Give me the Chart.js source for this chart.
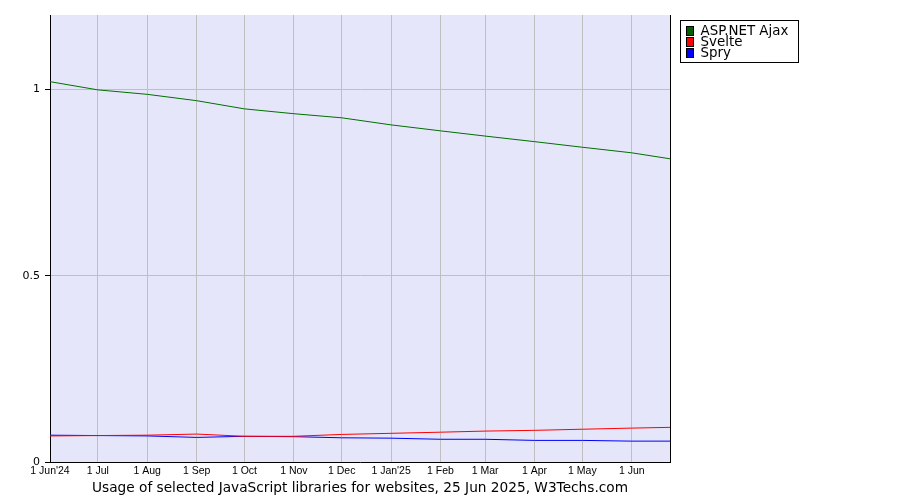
<!DOCTYPE html>
<html>
<head>
<meta charset="utf-8">
<script src="https://cdn.jsdelivr.net/npm/chart.js@4/dist/chart.umd.min.js"></script>
<style>
html,body{margin:0;padding:0;background:#fff;}
#wrap{width:900px;height:500px;}
</style>
</head>
<body>
<div id="wrap"><canvas id="c" width="900" height="500"></canvas></div>
<script>
const tickDates = ['2024-06-01','2024-07-01','2024-08-01','2024-09-01','2024-10-01','2024-11-01','2024-12-01','2025-01-01','2025-02-01','2025-03-01','2025-04-01','2025-05-01','2025-06-01'];
const tickLabels = ["1 Jun'24","1 Jul","1 Aug","1 Sep","1 Oct","1 Nov","1 Dec","1 Jan'25","1 Feb","1 Mar","1 Apr","1 May","1 Jun"];
const pointDates = ['2024-06-01','2024-07-01','2024-08-01','2024-09-01','2024-10-01','2024-11-01','2024-12-01','2025-01-01','2025-02-01','2025-03-01','2025-04-01','2025-05-01','2025-06-01','2025-06-25'];
const aspNetAjax = [1.021, 0.999, 0.987, 0.970, 0.948, 0.935, 0.924, 0.905, 0.889, 0.875, 0.860, 0.845, 0.830, 0.814];
const svelte     = [0.070, 0.071, 0.072, 0.075, 0.069, 0.069, 0.074, 0.077, 0.080, 0.083, 0.085, 0.088, 0.091, 0.093];
const spry       = [0.072, 0.071, 0.070, 0.066, 0.069, 0.068, 0.065, 0.064, 0.061, 0.061, 0.058, 0.058, 0.056, 0.056];
const yTicks = [0, 0.5, 1];
const yTickLabels = ['0', '0.5', '1'];
const seriesNames = ['ASP.NET Ajax', 'Svelte', 'Spry'];
const chartTitle = 'Usage of selected JavaScript libraries for websites, 25 Jun 2025, W3Techs.com';
const startDate = '2024-06-01';
const endDate = '2025-06-25';

const dayOf = s => (new Date(s) - new Date(startDate)) / 86400000;
const toPts = vals => vals.map((v, i) => ({x: dayOf(pointDates[i]), y: v}));

const bgPlugin = {
  id: 'bg',
  beforeDraw(chart) {
    const {ctx, chartArea: a} = chart;
    ctx.save();
    ctx.fillStyle = '#e6e6fa';
    ctx.fillRect(a.left, a.top, a.right - a.left, a.bottom - a.top);
    ctx.restore();
  },
  afterDraw(chart) {
    const {ctx, chartArea: a} = chart;
    ctx.save();
    // right border
    ctx.strokeStyle = '#000';
    ctx.lineWidth = 1;
    ctx.beginPath();
    ctx.moveTo(a.right + 0.5, a.top);
    ctx.lineTo(a.right + 0.5, a.bottom);
    ctx.stroke();
    // legend
    const lx = a.right + 10.5, ly = a.top + 5.5, lw = 118, lh = 42;
    ctx.fillStyle = '#fff';
    ctx.fillRect(lx, ly, lw, lh);
    ctx.strokeRect(lx, ly, lw, lh);
    ctx.font = '13.4px "DejaVu Sans"';
    ctx.textBaseline = 'middle';
    chart.data.datasets.forEach((ds, i) => {
      const cy = ly + 10.5 + i * 11;
      ctx.fillStyle = ds.legendFill;
      ctx.fillRect(lx + 6, cy - 4.5, 7, 9);
      ctx.strokeStyle = '#000';
      ctx.strokeRect(lx + 6, cy - 4.5, 7, 9);
      ctx.fillStyle = '#000';
      ctx.fillText(ds.label, lx + 20, cy + 0.5);
    });
    // title
    ctx.font = '13.7px "DejaVu Sans"';
    ctx.textAlign = 'center';
    ctx.fillStyle = '#000';
    ctx.fillText(chartTitle, (a.left + a.right) / 2, 488);
    ctx.restore();
  }
};

new Chart(document.getElementById('c'), {
  type: 'line',
  data: {
    datasets: [
      {label: seriesNames[0], data: toPts(aspNetAjax), borderColor: '#007000', legendFill: '#006000'},
      {label: seriesNames[1], data: toPts(svelte), borderColor: '#ff0000', legendFill: '#ff0000'},
      {label: seriesNames[2], data: toPts(spry), borderColor: '#0000ff', legendFill: '#0000ff'}
    ].map(d => Object.assign(d, {borderWidth: 1, pointRadius: 0, tension: 0, fill: false}))
  },
  options: {
    responsive: false,
    animation: false,
    devicePixelRatio: 1,
    layout: {padding: {top: 15, right: 230, left: 0, bottom: 0}},
    plugins: {legend: {display: false}, tooltip: {enabled: false}},
    scales: {
      x: {
        type: 'linear',
        min: 0,
        max: dayOf(endDate),
        afterFit: s => { s.height = 38; },
        afterBuildTicks: s => { s.ticks = tickDates.map(d => ({value: dayOf(d)})); },
        border: {color: '#000', width: 1},
        grid: {color: '#bfbfbf', drawTicks: false, lineWidth: 1},
        ticks: {
          autoSkip: false, maxRotation: 0, padding: 3, color: '#000',
          font: {family: '"Liberation Sans", Arial', size: 10.5},
          callback: (v, i) => tickLabels[i]
        }
      },
      y: {
        min: 0,
        max: 1.2,
        afterFit: s => { s.width = 50; },
        afterBuildTicks: s => { s.ticks = yTicks.map(v => ({value: v})); },
        border: {color: '#000', width: 1},
        grid: {color: '#bfbfbf', tickColor: '#000', tickLength: 5, lineWidth: 1},
        ticks: {
          padding: 5, color: '#000',
          font: {family: '"DejaVu Sans"', size: 11},
          callback: (v, i) => yTickLabels[i]
        }
      }
    }
  },
  plugins: [bgPlugin]
});
</script>
</body>
</html>
